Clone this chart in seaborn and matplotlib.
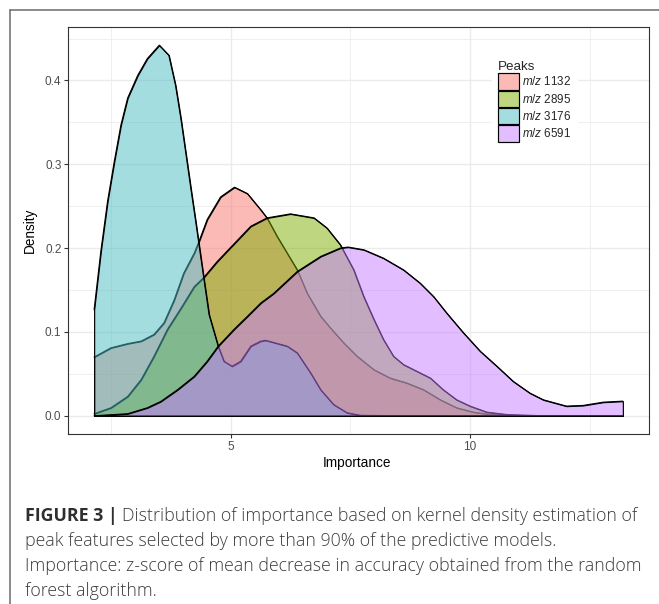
import matplotlib
matplotlib.use("Agg")
import matplotlib.pyplot as plt
import seaborn as sns
import pandas as pd
from matplotlib.patches import Patch
from matplotlib.lines import Line2D
from matplotlib.ticker import MultipleLocator, FixedLocator, FixedFormatter
from matplotlib import font_manager

# ---------------- data ----------------
peaks = ["1132", "2895", "3176", "6591"]

x_1132 = [2.15, 2.50, 2.85, 3.13, 3.40, 3.61, 3.82, 4.02, 4.24, 4.34, 4.51, 4.79,
          5.08, 5.35, 5.63, 5.76, 5.97, 6.18, 6.39, 6.60, 6.88, 7.08, 7.36, 7.64,
          7.99, 8.33, 8.68, 9.03, 9.38, 9.72, 10.07, 10.42, 11.00, 13.19]
d_1132 = [0.070, 0.081, 0.086, 0.089, 0.097, 0.111, 0.138, 0.170, 0.194, 0.208, 0.234, 0.261,
          0.2726, 0.265, 0.2456, 0.236, 0.214, 0.194, 0.174, 0.146, 0.1186, 0.105, 0.087, 0.071,
          0.055, 0.045, 0.039, 0.031, 0.019, 0.0095, 0.0043, 0.0015, 0.0, 0.0]

x_2895 = [2.15, 2.50, 2.85, 3.13, 3.40, 3.68, 3.96, 4.24, 4.44, 4.72, 5.07, 5.42,
          5.76, 6.25, 6.74, 7.01, 7.29, 7.57, 7.78, 7.99, 8.19, 8.40, 8.61, 8.89,
          9.17, 9.44, 9.72, 10.00, 10.35, 10.76, 11.50, 13.19]
d_2895 = [0.0024, 0.0095, 0.023, 0.043, 0.071, 0.103, 0.128, 0.154, 0.165, 0.184, 0.205, 0.226,
          0.236, 0.2408, 0.236, 0.224, 0.204, 0.174, 0.142, 0.115, 0.091, 0.071, 0.061, 0.053,
          0.045, 0.031, 0.019, 0.0115, 0.0043, 0.0015, 0.0, 0.0]

x_3176 = [2.15, 2.29, 2.43, 2.57, 2.71, 2.85, 3.06, 3.26, 3.51, 3.71, 3.85, 3.96,
          4.06, 4.17, 4.27, 4.34, 4.44, 4.55, 4.74, 4.86, 5.03, 5.21, 5.42, 5.63,
          5.73, 6.18, 6.39, 6.67, 6.88, 7.15, 7.43, 7.71, 8.50, 13.19]
d_3176 = [0.1265, 0.196, 0.2555, 0.303, 0.347, 0.379, 0.406, 0.426, 0.442, 0.430, 0.394, 0.355,
          0.315, 0.271, 0.232, 0.204, 0.164, 0.1206, 0.083, 0.065, 0.059, 0.065, 0.083, 0.089,
          0.090, 0.083, 0.075, 0.051, 0.031, 0.0134, 0.0036, 0.0005, 0.0, 0.0]

x_6591 = [2.15, 2.85, 3.26, 3.54, 3.89, 4.24, 4.51, 4.74, 5.07, 5.35, 5.63, 5.90,
          6.39, 6.88, 7.29, 7.45, 7.78, 8.19, 8.61, 8.96, 9.24, 9.51, 9.86, 10.21,
          10.56, 10.90, 11.25, 11.53, 12.01, 12.36, 12.78, 13.19]
d_6591 = [0.0, 0.0024, 0.0095, 0.017, 0.031, 0.047, 0.065, 0.083, 0.103, 0.1186, 0.1345, 0.146,
          0.172, 0.190, 0.200, 0.2012, 0.198, 0.188, 0.174, 0.158, 0.142, 0.1226, 0.099, 0.077,
          0.059, 0.041, 0.027, 0.019, 0.0115, 0.0123, 0.0162, 0.0174]

hue_colors = ["#F8766D", "#7CAE00", "#4ABDC1", "#C77CFF"]
x_ticks = [5, 10]
y_ticks = [0.0, 0.1, 0.2, 0.3, 0.4]
y_tick_labels = ["0.0", "0.1", "0.2", "0.3", "0.4"]

caption_bold = "FIGURE 3 |"
caption_lines = [
    "Distribution of importance based on kernel density estimation of",
    "peak features selected by more than 90% of the predictive models.",
    "Importance: z-score of mean decrease in accuracy obtained from the random",
    "forest algorithm.",
]

# ---------------- style ----------------
sns.set_theme(style="white")
plt.rcParams["font.family"] = ["Liberation Sans", "DejaVu Sans"]
plt.rcParams["mathtext.fontset"] = "custom"
plt.rcParams["mathtext.it"] = "Liberation Sans:italic"
plt.rcParams["mathtext.rm"] = "Liberation Sans"
plt.rcParams["mathtext.sf"] = "Liberation Sans"

palette = sns.color_palette(hue_colors)

W, H = 659, 604
fig = plt.figure(figsize=(W / 100, H / 100), dpi=100)
fig.patch.set_facecolor("white")

pl, pr, pt, pb = 67.7, 649.3, 26.7, 434.3
ax = fig.add_axes([pl / W, 1 - pb / H, (pr - pl) / W, (pb - pt) / H])

frames = []
for name, xs, ds in zip(peaks, [x_1132, x_2895, x_3176, x_6591],
                        [d_1132, d_2895, d_3176, d_6591]):
    frames.append(pd.DataFrame({"Importance": xs, "Density": ds, "Peaks": name}))
df = pd.concat(frames, ignore_index=True)

lw = 0.85
for i, name in enumerate(peaks):
    sub = df[df["Peaks"] == name]
    col = palette[i]
    ax.fill_between(sub["Importance"], sub["Density"], 0,
                    facecolor=(*col, 0.5), edgecolor="black", linewidth=lw,
                    zorder=3 + 2 * i)
    sns.lineplot(data=sub, x="Importance", y="Density", color="black",
                 linewidth=lw, ax=ax, zorder=4 + 2 * i, legend=False,
                 estimator=None, sort=False)

# axis ranges (ggplot-like 5% expansion of data range)
xmin, xmax = df["Importance"].min(), df["Importance"].max()
ymax = df["Density"].max()
xr = xmax - xmin
ax.set_xlim(xmin - 0.05 * xr, xmax + 0.05 * xr)
ax.set_ylim(-0.05 * ymax, ymax * 1.05)

ax.xaxis.set_major_locator(FixedLocator(x_ticks))
ax.xaxis.set_major_formatter(FixedFormatter([str(t) for t in x_ticks]))
ax.yaxis.set_major_locator(FixedLocator(y_ticks))
ax.yaxis.set_major_formatter(FixedFormatter(y_tick_labels))
ax.xaxis.set_minor_locator(MultipleLocator(2.5))
ax.yaxis.set_minor_locator(MultipleLocator(0.05))

ax.set_axisbelow(True)
ax.grid(which="major", color="#EBEBEB", linewidth=1.0, zorder=0)
ax.grid(which="minor", color="#EBEBEB", linewidth=0.55, zorder=0)
for s in ax.spines.values():
    s.set_color("#333333")
    s.set_linewidth(0.8)
    s.set_visible(True)
ax.tick_params(which="major", direction="out", length=2.9, width=0.8,
               color="#333333", labelcolor="#4D4D4D", labelsize=8.5, pad=1.6,
               bottom=True, left=True)
ax.tick_params(which="minor", length=0)

ax.set_xlabel("Importance", fontsize=9.8, color="black")
ax.set_ylabel("Density", fontsize=9.8, color="black")
ax.yaxis.set_label_coords(-0.053, 0.5)
ax.xaxis.set_label_coords(0.497, -0.053)

handles = [Patch(facecolor=(*palette[i], 0.5), edgecolor="black", linewidth=lw)
           for i in range(len(peaks))]
labels = [r"$m/z$ " + p for p in peaks]
leg = ax.legend(handles, labels, title="Peaks", loc="upper left",
                bbox_to_anchor=(486 / W, 1 - 49 / H), bbox_transform=fig.transFigure,
                frameon=True, fancybox=False, facecolor="white", edgecolor="white",
                framealpha=1.0, fontsize=8.4, title_fontsize=9.6,
                handlelength=1.8, handleheight=1.8, labelspacing=0.06,
                handletextpad=0.3, borderpad=0.5, alignment="left")
leg.set_zorder(20)

# ---------------- figure frame ----------------
fx, fy = 10 / W, 1 - 10 / H
fig.add_artist(Line2D([fx, 1.0], [fy, fy], transform=fig.transFigure,
                      color="#6B6B6B", linewidth=1.1))
fig.add_artist(Line2D([fx, fx], [0.0, fy], transform=fig.transFigure,
                      color="#6B6B6B", linewidth=1.1))

# ---------------- caption ----------------
def pick(names, weight):
    for n in names:
        try:
            fp = font_manager.FontProperties(family=n, weight=weight)
            font_manager.findfont(fp, fallback_to_default=False)
            return n
        except Exception:
            continue
    return "Liberation Sans"

fam_light = pick(["Open Sans", "Roboto", "Lato"], "light")
fam_bold = fam_light

renderer = fig.canvas.get_renderer()
base = 10.0
tb = fig.text(0, 0, caption_bold + " ", fontsize=base, family=fam_bold, weight="bold")
tr = fig.text(0, 0, caption_lines[0], fontsize=base, family=fam_light, weight="light")
wtot = tb.get_window_extent(renderer).width + tr.get_window_extent(renderer).width
tb.remove()
tr.remove()
size = base * (633 - 25) / wtot

baselines = [520.7, 545.9, 571.1, 596.5]
x0 = 25 / W
tb = fig.text(x0, 1 - baselines[0] / H, caption_bold + " ", fontsize=size,
              family=fam_bold, weight="bold", color="#2E2E2E", va="baseline")
wb = tb.get_window_extent(renderer).width
fig.text(x0 + wb / W, 1 - baselines[0] / H, caption_lines[0], fontsize=size,
         family=fam_light, weight="light", color="#3C3C3C", va="baseline")
for line, yb in zip(caption_lines[1:], baselines[1:]):
    fig.text(x0, 1 - yb / H, line, fontsize=size, family=fam_light,
             weight="light", color="#3C3C3C", va="baseline")

fig.savefig("out.png", dpi=100)
